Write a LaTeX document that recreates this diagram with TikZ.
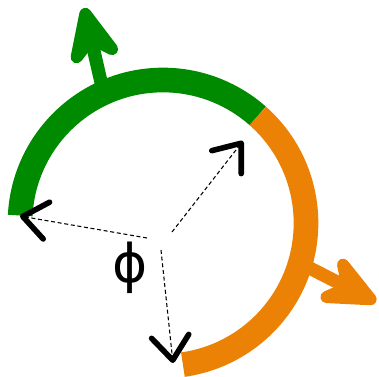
\documentclass[tikz,border=0pt]{standalone}
\usepackage{fontspec}
\setmainfont{Liberation Sans}
\newfontfamily\phifont{DejaVu Sans}
\usepackage{tikz}
\usetikzlibrary{arrows.meta,calc}
\definecolor{arcGreen}{RGB}{0,138,0}
\definecolor{arcOrange}{RGB}{236,130,5}

\begin{document}
\begin{tikzpicture}[
  x=0.75pt,y=0.75pt,
  ringarc/.style={line width=18.5pt,line cap=butt},
  bigarr/.style={line width=10pt,line cap=round,-{Stealth[length=56pt,width=50pt,inset=20pt,line width=12pt,round]}},
  dasharr/.style={dashed,line width=0.8pt,dash pattern=on 3pt off 2pt,-{Straight Barb[length=18pt,width=28pt,line width=4.2pt,round]}}
]
\useasboundingbox (0,0) rectangle (379,-376);
\coordinate (c) at (163,-223);

% ring
\draw[ringarc,arcGreen] ($(c)+(177:143)$) arc[start angle=177,end angle=48.5,radius=107.25pt];
\draw[ringarc,arcOrange] ($(c)+(48.5:143)$) arc[start angle=48.5,end angle=-82,radius=107.25pt];

% outward arrows
\coordinate (gbase) at (104,-95);
\coordinate (gtip) at (84,-8);
\coordinate (obase) at (296,-261);
\coordinate (otip) at (376,-302);
\draw[bigarr,arcGreen] (gbase) -- (gtip);
\draw[bigarr,arcOrange] (obase) -- (otip);

% dashed radii
\coordinate (dl0) at (147,-238);
\coordinate (dl1) at (20,-216);
\coordinate (dr0) at (172,-232);
\coordinate (dr1) at (243,-141);
\coordinate (db0) at (161,-250);
\coordinate (db1) at (173,-363);
\draw[dasharr] (dl0) -- (dl1);
\draw[dasharr] (dr0) -- (dr1);
\draw[dasharr] (db0) -- (db1);

\node[font=\phifont\fontsize{40}{44}\selectfont,inner sep=0pt] (phi) at (130,-268) {ϕ};
\end{tikzpicture}
\end{document}
